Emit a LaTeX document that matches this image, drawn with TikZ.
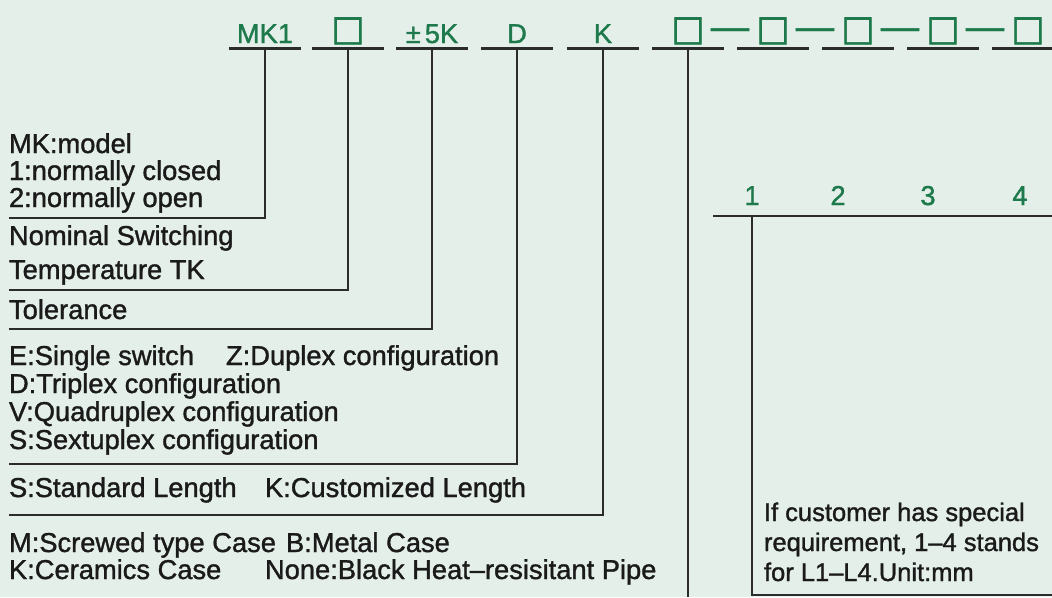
\documentclass[tikz,border=0pt]{standalone}
\usepackage{fontspec}
\setmainfont{Liberation Sans}
\newfontfamily\heavy[FakeBold=1.3]{Liberation Sans}
\newfontfamily\symfont[FakeBold=2]{DejaVu Sans}
\definecolor{bg}{HTML}{E3EFE8}
\definecolor{grn}{HTML}{1E7A4C}
\definecolor{ink}{HTML}{1A1A1A}
\definecolor{ln}{HTML}{2B2B2B}
\begin{document}
\begin{tikzpicture}[x=1pt,y=-1pt,
  every node/.style={inner sep=0pt, outer sep=0pt},
  code/.style={text=grn, font=\heavy\fontsize{27.3}{28}\selectfont, anchor=base},
  boxch/.style={text=grn, font=\symfont\fontsize{35}{35}\selectfont, anchor=base},
  dashch/.style={text=grn, font=\heavy\bfseries\fontsize{27.3}{28}\selectfont, anchor=base},
  desc/.style={text=ink, font=\heavy\fontsize{27.3}{28}\selectfont, anchor=base west},
  note/.style={text=ink, font=\heavy\fontsize{25.5}{28}\selectfont, anchor=base west},
  uline/.style={draw=ln, line width=3pt},
  lead/.style={draw=ln, line width=2.6pt, line join=miter}
]
\fill[bg] (0,0) rectangle (1052,597);
\useasboundingbox (0,0) rectangle (1052,597);

% ---- code row ----
\node[code]  (c1) at (265,43) {MK1};
\node[boxch] (c2) at (348,40) {□};
\node[code]  (c3) at (432,43) {±\kern4pt 5K};
\node[code]  (c4) at (517,43) {D};
\node[code]  (c5) at (603,43) {K};
\node[boxch] (c6) at (688,40) {□};
\node[boxch] (c7) at (773,40) {□};
\node[boxch] (c8) at (858,40) {□};
\node[boxch] (c9) at (943,40) {□};
\node[boxch] (c10) at (1028,40) {□};
\node[dashch] (k1) at (730,37) {\scalebox{1.4}[1]{—}};
\node[dashch] (k2) at (815,37) {\scalebox{1.4}[1]{—}};
\node[dashch] (k3) at (900,37) {\scalebox{1.4}[1]{—}};
\node[dashch] (k4) at (985,37) {\scalebox{1.4}[1]{—}};

% underline anchors
\foreach \i/\x in {1/265,2/348,3/432,4/517,5/603,6/688,7/773,8/858,9/943}{
  \coordinate (u\i) at (\x,48);
  \draw[uline] ([xshift=-36pt]u\i) -- ([xshift=36pt]u\i);
}
\coordinate (u10) at (1028,48);
\draw[uline] ([xshift=-36pt]u10) -- (1052,48);

% ---- descriptions ----
\node[desc] (d1a) at (9,153) {MK:model};
\node[desc] (d1b) at (9,180) {1:normally closed};
\node[desc] (d1c) at (9,207) {2:normally open};
\node[desc] (d2a) at (9,245) {Nominal Switching};
\node[desc] (d2b) at (9,279) {Temperature TK};
\node[desc] (d3)  at (9,319) {Tolerance};
\node[desc] (d4a) at (9,365) {E:Single switch};
\node[desc] (d4b) at (226,365) {Z:Duplex configuration};
\node[desc] (d4c) at (9,393) {D:Triplex configuration};
\node[desc] (d4d) at (9,421) {V:Quadruplex configuration};
\node[desc] (d4e) at (9,449) {S:Sextuplex configuration};
\node[desc] (d5a) at (9,497) {S:Standard Length};
\node[desc] (d5b) at (265,497) {K:Customized Length};
\node[desc] (d6a) at (9,552) {M:Screwed type Case};
\node[desc] (d6b) at (286,552) {B:Metal Case};
\node[desc] (d6c) at (9,579) {K:Ceramics Case};
\node[desc] (d6d) at (265,579) {None:Black Heat–resisitant Pipe};

% leader end points
\coordinate (e1) at (9,218);
\coordinate (e2) at (9,290);
\coordinate (e3) at (9,329);
\coordinate (e4) at (9,464);
\coordinate (e5) at (9,515);
\coordinate (e6) at (688,597);
\draw[lead] (u1) |- (e1);
\draw[lead] (u2) |- (e2);
\draw[lead] (u3) |- (e3);
\draw[lead] (u4) |- (e4);
\draw[lead] (u5) |- (e5);
\draw[lead] (u6) -- (e6);

% ---- right panel ----
\node[code] (n1) at (752,205) {1};
\node[code] (n2) at (838,205) {2};
\node[code] (n3) at (928,205) {3};
\node[code] (n4) at (1020,205) {4};
\coordinate (r0) at (713,216);
\coordinate (r1) at (1052,216);
\coordinate (rv) at (752,216);
\coordinate (rb) at (1052,595);
\draw[lead] (r0) -- (r1);
\draw[lead] (rv) |- (rb);
\node[note] (t1) at (764,521) {If customer has special};
\node[note] (t2) at (764,551) {requirement, 1–4 stands};
\node[note] (t3) at (764,581) {for L1–L4.Unit:mm};
\end{tikzpicture}
\end{document}
